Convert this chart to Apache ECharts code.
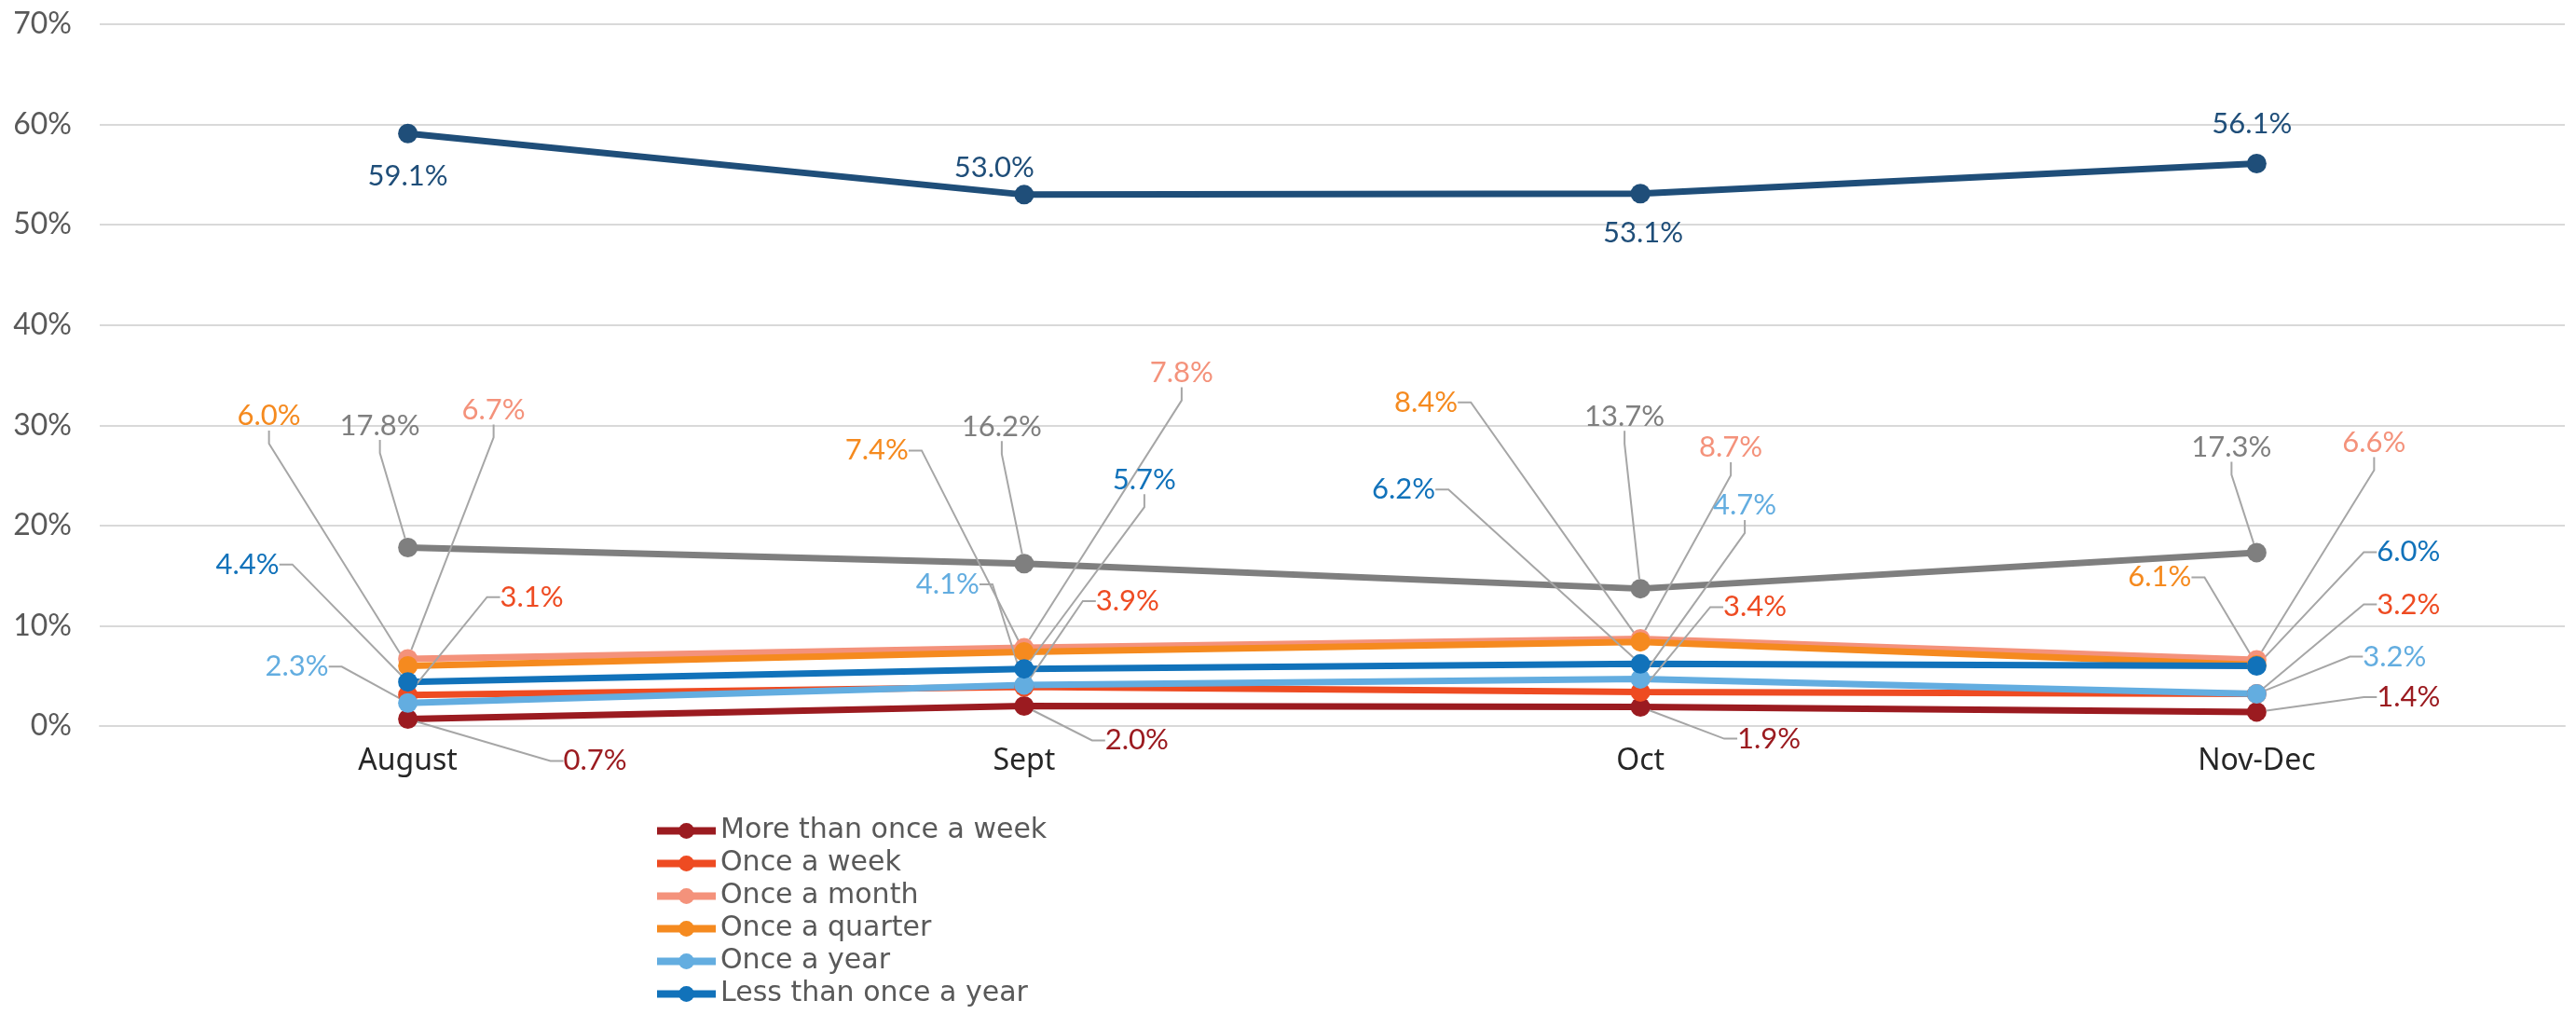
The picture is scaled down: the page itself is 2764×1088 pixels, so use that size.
<!DOCTYPE html>
<html>
<head>
<meta charset="utf-8">
<script src="https://cdn.jsdelivr.net/npm/echarts@6/dist/echarts.min.js"></script>
<style>
  html, body { margin: 0; padding: 0; background: #ffffff; }
  #chart { width: 2764px; height: 1088px; }
</style>
</head>
<body>
<div id="chart"></div>
<script>
const categories = ["August", "Sept", "Oct", "Nov-Dec"];

const moreThanWeekly = [0.7, 2.0, 1.9, 1.4];
const onceAWeek = [3.1, 3.9, 3.4, 3.2];
const onceAMonth = [6.7, 7.8, 8.7, 6.6];
const onceAQuarter = [6.0, 7.4, 8.4, 6.1];
const onceAYear = [2.3, 4.1, 4.7, 3.2];
const lessThanYearly = [4.4, 5.7, 6.2, 6.0];
const grayGroup = [17.8, 16.2, 13.7, 17.3];
const navyGroup = [59.1, 53.0, 53.1, 56.1];

const legendNames = [
  "More than once a week",
  "Once a week",
  "Once a month",
  "Once a quarter",
  "Once a year",
  "Less than once a year"
];

// label offsets from each point, [dx, dy] in px, one per category
const LABEL_OFFSETS = {
  "More than once a week": [[201, 45], [121, 37], [138, 34], [163, -16]],
  "Once a week": [[133, -105], [111, -92], [123, -91], [163, -96]],
  "Once a month": [[92, -267], [169, -295], [97, -205], [126, -233]],
  "Once a quarter": [[-149, -268], [-158, -216], [-230, -257], [-104, -94]],
  "Once a year": [[-119, -39], [-82, -108], [112, -186], [148, -40]],
  "Less than once a year": [[-172, -126], [129, -203], [-254, -187], [163, -122]],
  "Other": [[-30, -131], [-24, -147], [-17, -185], [-27, -113]],
  "Never": [[0, 46], [-32, -29], [3, 42], [-5, -43]]
};

const SERIES = [
  { name: "More than once a week", values: moreThanWeekly, color: "#9B1B20" },
  { name: "Once a week", values: onceAWeek, color: "#EE4B22" },
  { name: "Once a month", values: onceAMonth, color: "#F4927B" },
  { name: "Once a quarter", values: onceAQuarter, color: "#F58A1F" },
  { name: "Once a year", values: onceAYear, color: "#63ADE0" },
  { name: "Less than once a year", values: lessThanYearly, color: "#1172BA" },
  { name: "Other", values: grayGroup, color: "#7F7F7F" },
  { name: "Never", values: navyGroup, color: "#1F4E79" }
];

const FONT = "Lato, 'Noto Sans', sans-serif";

const chart = echarts.init(document.getElementById("chart"));

const option = {
  animation: false,
  grid: { left: 107, right: 12, top: 26, bottom: 309 },
  legend: {
    data: legendNames,
    orient: "vertical",
    left: 701,
    top: 874,
    height: 260,
    padding: 0,
    itemWidth: 63,
    itemHeight: 21,
    itemGap: 0,
    lineStyle: { width: 8 },
    textStyle: { fontFamily: "'DejaVu Sans', sans-serif", fontSize: 30, color: "#595959", lineHeight: 35 }
  },
  xAxis: {
    type: "category",
    data: categories,
    boundaryGap: true,
    axisTick: { show: false },
    axisLine: { show: true, lineStyle: { color: "#D9D9D9", width: 2 } },
    axisLabel: { fontFamily: "'Noto Sans', sans-serif", fontSize: 32, color: "#262626", margin: 22 }
  },
  yAxis: {
    type: "value",
    min: 0,
    max: 70,
    interval: 10,
    axisLine: { show: false },
    axisTick: { show: false },
    axisLabel: { fontFamily: FONT, fontSize: 32, color: "#595959", margin: 30, formatter: "{value}%" },
    splitLine: { lineStyle: { color: "#D9D9D9", width: 2 } }
  },
  series: SERIES.map(s => ({
    name: s.name,
    type: "line",
    data: s.values,
    symbol: "circle",
    symbolSize: 21,
    color: s.color,
    lineStyle: { width: 7, color: s.color },
    itemStyle: { color: s.color },
    label: {
      show: true,
      position: "inside",
      fontFamily: FONT,
      fontSize: 31,
      color: s.color,
      formatter: p => p.value.toFixed(1) + "%"
    },
    labelLine: {
      show: s.name !== "Never",
      length2: 14,
      lineStyle: { color: "#A6A6A6", width: 2 }
    },
    labelLayout: params => {
      const off = LABEL_OFFSETS[s.name][params.dataIndex];
      return { dx: off[0], dy: off[1] };
    }
  }))
};

chart.setOption(option);
</script>
</body>
</html>
